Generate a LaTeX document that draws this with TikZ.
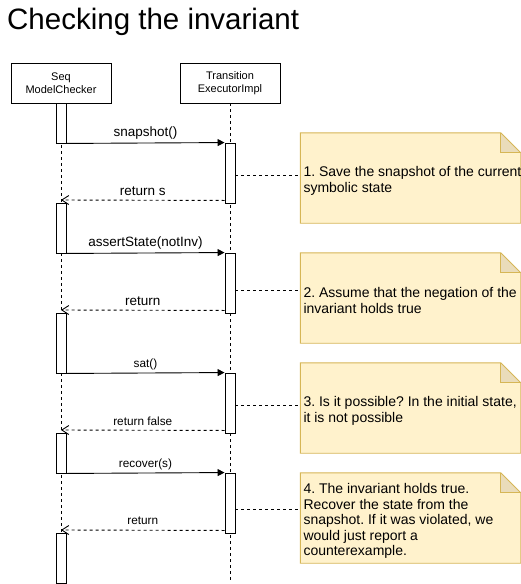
\documentclass[tikz,border=0pt]{standalone}
\usepackage{fontspec}
\setmainfont{Liberation Sans}
\usetikzlibrary{arrows.meta}
\frenchspacing
\definecolor{notefill}{HTML}{FFF2CC}
\definecolor{noteline}{HTML}{D6B656}
\definecolor{foldfill}{HTML}{EADCBA}
\tikzset{
  head/.style={draw, line width=0.9pt, fill=white, minimum width=100pt, minimum height=40pt, inner sep=0pt, align=center, font=\fontsize{11}{13.5}\selectfont},
  act/.style={draw, line width=0.9pt, fill=white, minimum width=10pt, inner sep=0pt},
  life/.style={line width=0.9pt, dash pattern=on 3pt off 3pt},
  call/.style={line width=0.9pt, -{Triangle[length=7pt,width=7pt]}},
  ret/.style={line width=0.9pt, dash pattern=on 3pt off 3pt, -{Straight Barb[length=7pt,width=9pt]}},
  link/.style={line width=0.8pt, dash pattern=on 3pt off 3pt},
  notearea/.style={minimum width=220pt, minimum height=90pt, inner sep=0pt},
  notetext/.style={anchor=west, align=left, inner sep=0pt, font=\fontsize{14}{16}\selectfont},
  lbig/.style={font=\fontsize{13.5}{16}\selectfont, inner sep=0pt},
  lsmall/.style={font=\fontsize{11.8}{14}\selectfont, inner sep=0pt},
}
\newcommand{\drawnote}[1]{%
  \fill[notefill] (#1.north west) -- ([xshift=-20pt]#1.north east) -- ([yshift=-20pt]#1.north east) -- (#1.south east) -- (#1.south west) -- cycle;
  \fill[foldfill] ([xshift=-20pt]#1.north east) -- ([xshift=-20pt,yshift=-20pt]#1.north east) -- ([yshift=-20pt]#1.north east) -- cycle;
  \draw[noteline, line width=0.9pt, line join=miter] (#1.north west) -- ([xshift=-20pt]#1.north east) -- ([yshift=-20pt]#1.north east) -- (#1.south east) -- (#1.south west) -- cycle;
  \draw[noteline, line width=0.9pt] ([xshift=-20pt]#1.north east) -- ([xshift=-20pt,yshift=-20pt]#1.north east) -- ([yshift=-20pt]#1.north east);
}
\begin{document}
\begin{tikzpicture}[x=1pt,y=-1pt]
\useasboundingbox (0,0) rectangle (521,584);

% title
\node[anchor=base west, inner sep=0pt, font=\fontsize{29.5}{34}\selectfont] (title) at (7,29.5) {Checking the invariant};

% lifeline heads
\node[head] (seq) at (61,83) {Seq\\ModelChecker};
\node[head] (tei) at (230,83) {Transition\\ExecutorImpl};

% lifelines
\coordinate (seqend) at (61,583);
\coordinate (teiend) at (230,580);
\draw[life] (seq.south) -- (seqend);
\draw[life] (tei.south) -- (teiend);

% activations of Seq ModelChecker
\node[act, minimum height=40pt] (a0) at (61,123) {};
\node[act, minimum height=50pt] (a1) at (61,228) {};
\node[act, minimum height=60pt] (a2) at (61,343) {};
\node[act, minimum height=40pt] (a3) at (61,453) {};
\node[act, minimum height=50pt] (a4) at (61,558) {};

% activations of TransitionExecutorImpl
\node[act, minimum height=60pt] (b0) at (230,173) {};
\node[act, minimum height=60pt] (b1) at (230,283) {};
\node[act, minimum height=60pt] (b2) at (230,403) {};
\node[act, minimum height=60pt] (b3) at (230,503) {};

% return end points on the Seq lifeline
\coordinate (r0) at (61,200);
\coordinate (r1) at (61,310);
\coordinate (r2) at (61,430);
\coordinate (r3) at (61,530);

% messages
\draw[call] (a0.south east) -- (b0.north west) node[lbig, midway, yshift=9.5pt] (m0) {snapshot()};
\draw[ret] ([yshift=3pt]b0.south west) -- (r0) node[lbig, midway, yshift=9.5pt] (m1) {return s};
\draw[call] (a1.south east) -- (b1.north west) node[lbig, midway, yshift=9.5pt] (m2) {assertState(notInv)};
\draw[ret] ([yshift=3pt]b1.south west) -- (r1) node[lbig, midway, yshift=9.5pt] (m3) {return};
\draw[call] (a2.south east) -- (b2.north west) node[lsmall, midway, yshift=8.5pt] (m4) {sat()};
\draw[ret] ([yshift=3pt]b2.south west) -- (r2) node[lsmall, midway, yshift=9pt] (m5) {return false};
\draw[call] (a3.south east) -- (b3.north west) node[lsmall, midway, yshift=8.5pt] (m6) {recover(s)};
\draw[ret] ([yshift=3pt]b3.south west) -- (r3) node[lsmall, midway, yshift=9pt] (m7) {return};

% notes
\node[notearea] (n1) at (410.5,178) {};
\node[notearea] (n2) at (410.5,298) {};
\node[notearea] (n3) at (410.5,408) {};
\node[notearea] (n4) at (410.5,518) {};
\drawnote{n1}
\drawnote{n2}
\drawnote{n3}
\drawnote{n4}
\node[notetext] (t1) at ([xshift=3pt,yshift=-2.5pt]n1.west) {1. Save the snapshot of the current\\symbolic state};
\node[notetext] (t2) at ([xshift=3pt,yshift=-2pt]n2.west) {2. Assume that the negation of the\\invariant holds true};
\node[notetext] (t3) at ([xshift=3pt,yshift=-3pt]n3.west) {3. Is it possible? In the initial state,\\it is not possible};
\node[notetext, font=\fontsize{14}{15.6}\selectfont] (t4) at ([xshift=3pt,yshift=-3pt]n4.west) {4. The invariant holds true.\\Recover the state from the\\snapshot. If it was violated, we\\would just report a\\counterexample.};

% note links
\coordinate (l1) at (235,175);
\coordinate (l2) at (235,290);
\coordinate (l3) at (235,405);
\coordinate (l4) at (235,509);
\draw[link] (l1) -- (l1 -| n1.west);
\draw[link] (l2) -- (l2 -| n2.west);
\draw[link] (l3) -- (l3 -| n3.west);
\draw[link] (l4) -- (l4 -| n4.west);
\end{tikzpicture}
\end{document}
